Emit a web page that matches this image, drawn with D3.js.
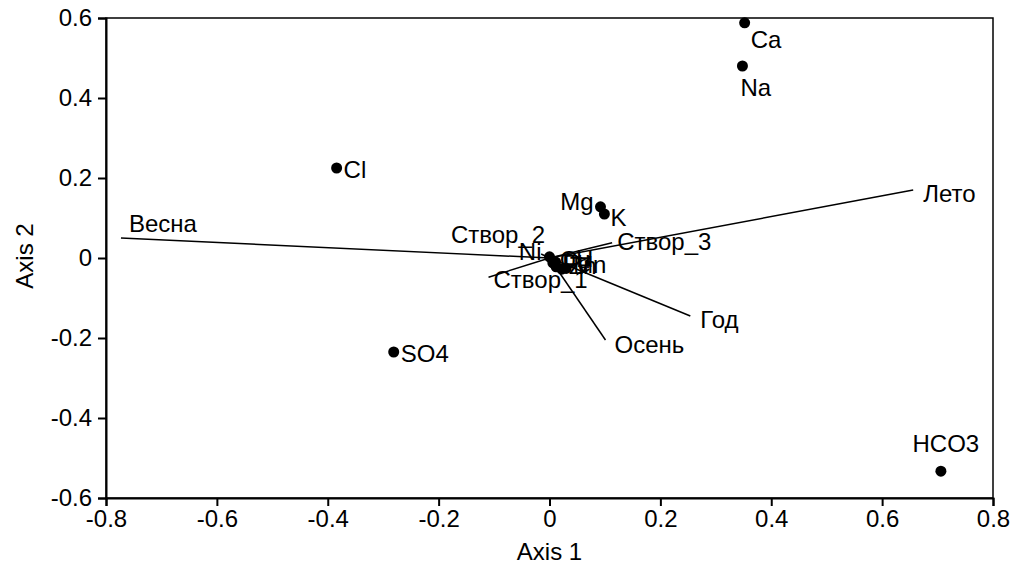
<!DOCTYPE html>
<meta charset="utf-8">
<style>
body { margin: 0; background: #fff; }
text { font-family: "Liberation Sans", Arial, sans-serif; fill: #000; }
.axis text { font-size: 24px; font-family: "Liberation Sans", Arial, sans-serif; }
.axis path, .axis line { stroke: #000; stroke-width: 2px; }
.frame { fill: none; stroke: #000; stroke-width: 1.5px; }
.vec { stroke: #000; stroke-width: 1.5px; }
.lbl { font-size: 24px; }
</style>
<body>
<script src="https://d3js.org/d3.v7.min.js"></script>
<script>

// point variables (scores)
var pointNames = ["Ca", "Na", "Cl", "SO4", "HCO3", "Mg", "K", "Ni", "Cu", "pH", "Fe", "Zn", "Mn"];
var pointX = [0.352, 0.348, -0.384, -0.281, 0.706, 0.092, 0.099, 0.000, 0.006, 0.011, 0.012, 0.022, 0.030];
var pointY = [0.588, 0.480, 0.225, -0.235, -0.533, 0.128, 0.110, 0.003, -0.012, -0.010, -0.022, -0.028, -0.026];

// biplot vectors
var vecNames = ["Весна", "Лето", "Год", "Осень", "Створ_3", "Створ_1", "Створ_2"];
var vecX = [-0.773, 0.656, 0.254, 0.101, 0.113, -0.110, -0.015];
var vecY = [0.050, 0.170, -0.145, -0.205, 0.038, -0.048, 0.010];

var xTicks = [-0.8, -0.6, -0.4, -0.2, 0, 0.2, 0.4, 0.6, 0.8];
var yTicks = [-0.6, -0.4, -0.2, 0, 0.2, 0.4, 0.6];

// label placement (anchor, offset from mark to baseline)
var place = {
  "Ca": {a: "start", dx: 6, dy: 25},
  "Na": {a: "start", dx: -2, dy: 30},
  "Cl": {a: "start", dx: 7, dy: 10},
  "SO4": {a: "start", dx: 7, dy: 10},
  "HCO3": {a: "middle", dx: 5, dy: -19},
  "Mg": {a: "end", dx: -7, dy: 3},
  "K": {a: "start", dx: 6, dy: 12},
  "Ni": {a: "end", dx: -8, dy: 3},
  "Весна": {a: "start", dx: 8, dy: -6},
  "Лето": {a: "start", dx: 10, dy: 12},
  "Год": {a: "start", dx: 10, dy: 12},
  "Осень": {a: "start", dx: 9, dy: 13},
  "Створ_3": {a: "start", dx: 5, dy: 7},
  "Створ_1": {a: "start", dx: 5, dy: 11},
  "Створ_2": {a: "end", dx: 4, dy: -11}
};

var margin = {top: 18, right: 21, bottom: 67, left: 106},
    width = 1014 - margin.left - margin.right,
    height = 565 - margin.top - margin.bottom;

var x = d3.scaleLinear().domain([-0.8, 0.8]).range([0, width]);
var y = d3.scaleLinear().domain([-0.6, 0.6]).range([height, 0]);

var svg = d3.select("body").append("svg")
    .attr("width", 1014)
    .attr("height", 565)
  .append("g")
    .attr("transform", "translate(" + margin.left + "," + margin.top + ")");

svg.append("rect")
    .attr("class", "frame")
    .attr("width", width)
    .attr("height", height);

var fmt = function(d) { return d === 0 ? "0" : d3.format(".1f")(d).replace("\u2212", "-"); };

svg.append("g")
    .attr("class", "axis")
    .attr("transform", "translate(0," + height + ")")
    .call(d3.axisBottom(x).tickValues(xTicks).tickFormat(fmt).tickSizeOuter(0).tickSize(8).tickPadding(4));

svg.append("g")
    .attr("class", "axis")
    .call(d3.axisLeft(y).tickValues(yTicks).tickFormat(fmt).tickSizeOuter(0).tickSize(8).tickPadding(6));

svg.append("text")
    .attr("x", x(0))
    .attr("y", height + 62)
    .attr("text-anchor", "middle")
    .style("font-size", "24px")
    .text("Axis 1");

svg.append("text")
    .attr("transform", "translate(" + (-73) + "," + (y(0) - 2) + ") rotate(-90)")
    .attr("text-anchor", "middle")
    .style("font-size", "24px")
    .text("Axis 2");

var lbl = function(sel, name) {
  var p = place[name] || {a: "start", dx: 7, dy: 5};
  sel.attr("text-anchor", p.a).attr("dx", p.dx).attr("dy", p.dy);
};

vecNames.forEach(function(n, i) {
  svg.append("line")
      .attr("class", "vec")
      .attr("x1", x(0)).attr("y1", y(0))
      .attr("x2", x(vecX[i])).attr("y2", y(vecY[i]));
  svg.append("text")
      .attr("class", "lbl")
      .attr("x", x(vecX[i])).attr("y", y(vecY[i]))
      .call(lbl, n)
      .text(n);
});

pointNames.forEach(function(n, i) {
  svg.append("circle")
      .attr("cx", x(pointX[i])).attr("cy", y(pointY[i]))
      .attr("r", 5.5)
      .attr("fill", "#000");
  svg.append("text")
      .attr("class", "lbl")
      .attr("x", x(pointX[i])).attr("y", y(pointY[i]))
      .call(lbl, n)
      .text(n);
});

</script>
</body>
